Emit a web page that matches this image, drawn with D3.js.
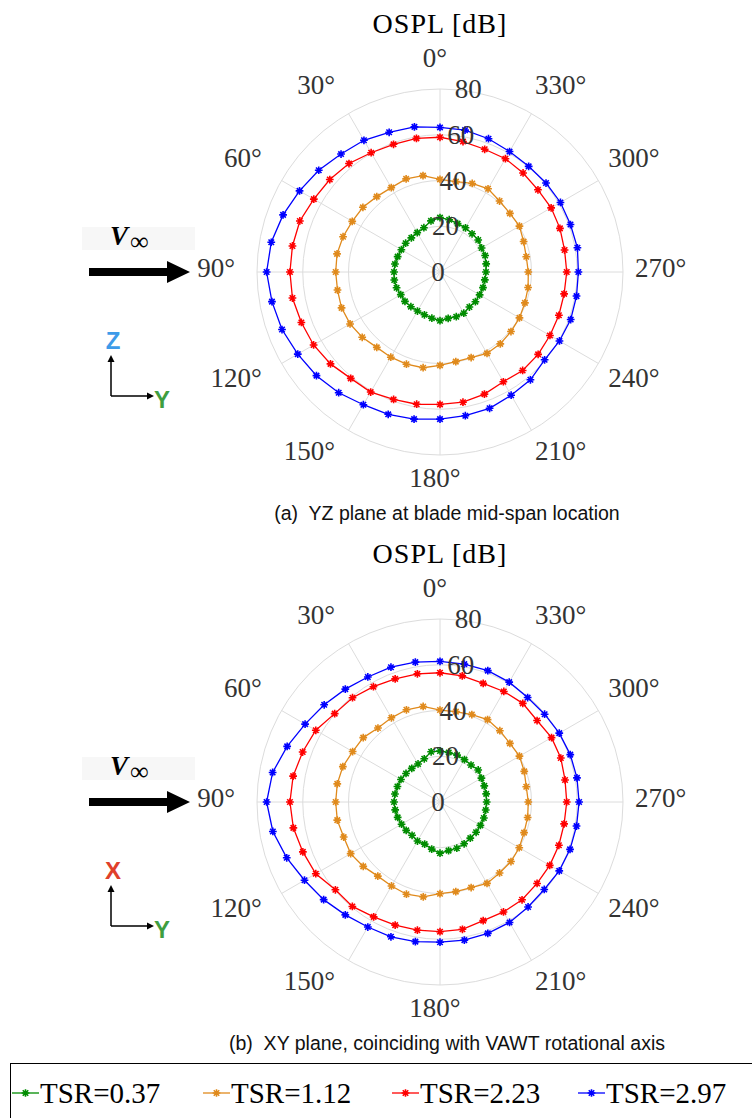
<!DOCTYPE html>
<html>
<head>
<meta charset="utf-8">
<script src="https://cdn.jsdelivr.net/npm/d3@7"></script>
<style>
  body { margin: 0; background: #fff; }
  svg { display: block; }
  .serif { font-family: "Liberation Serif", "Times New Roman", Times, serif; }
  .sans { font-family: "Liberation Sans", Arial, Helvetica, sans-serif; }
</style>
</head>
<body>
<svg></svg>
<script>
const svgWidth = 752;
const svgHeight = 1118;

// angular positions of the samples (deg, counter-clockwise from top)
const angles = [0, 10, 20, 30, 40, 50, 60, 70, 80, 90, 100, 110, 120, 130, 140, 150, 160, 170,
                180, 190, 200, 210, 220, 230, 240, 250, 260, 270, 280, 290, 300, 310, 320, 330, 340, 350];
const angleTicks = [0, 30, 60, 90, 120, 150, 180, 210, 240, 270, 300, 330];
const radialTicks = [0, 20, 40, 60, 80];
const seriesNames = ["TSR=0.37", "TSR=1.12", "TSR=2.23", "TSR=2.97"];
const seriesColors = ["#008c00", "#e08a1c", "#ff0000", "#0000ff"];

// (a) YZ plane, OSPL [dB]
const yzTsr037 = [23.8, 22.7, 20.6, 19.9, 19.5, 19.6, 19.5, 19.7, 20.0, 20.1, 20.3, 20.2, 19.8, 20.0, 19.8, 19.7, 19.9, 20.5,
                  21.3, 20.6, 20.8, 20.8, 20.0, 20.2, 20.0, 20.0, 19.9, 20.1, 20.5, 21.0, 21.0, 21.8, 21.8, 22.3, 22.5, 23.2];
const yzTsr112 = [40.5, 42.8, 43.3, 42.6, 43.0, 44.0, 44.3, 45.1, 45.7, 45.6, 45.5, 45.8, 45.4, 44.4, 43.0, 43.0, 42.9, 42.5,
                  40.8, 39.8, 39.8, 41.1, 41.0, 40.5, 40.1, 39.5, 39.1, 38.6, 38.3, 38.9, 40.1, 39.9, 40.5, 42.0, 41.2, 40.1];
const yzTsr223 = [58.9, 59.3, 59.4, 60.2, 61.9, 62.9, 63.7, 65.2, 65.5, 65.6, 65.5, 64.5, 63.8, 62.5, 60.7, 60.6, 59.3, 58.7,
                  57.9, 57.8, 56.8, 55.4, 56.2, 56.0, 55.5, 55.3, 55.1, 55.4, 55.3, 55.8, 56.1, 55.9, 56.5, 57.2, 57.1, 57.9];
const yzTsr297 = [63.2, 64.4, 65.0, 66.5, 67.3, 69.2, 70.9, 73.0, 74.9, 75.8, 74.6, 73.5, 71.8, 70.5, 68.9, 67.0, 66.2, 65.3,
                  64.3, 63.8, 63.4, 62.2, 61.5, 59.7, 60.3, 60.8, 60.6, 60.5, 61.0, 60.7, 60.8, 60.5, 60.3, 60.8, 62.0, 63.0];

// (b) XY plane, OSPL [dB]
const xyTsr037 = [22.3, 22.3, 20.1, 19.2, 19.2, 19.4, 19.7, 19.8, 20.0, 20.1, 19.9, 19.7, 19.4, 19.3, 19.0, 19.7, 19.6, 20.9,
                  22.4, 21.6, 21.5, 21.1, 20.6, 20.6, 20.4, 20.4, 20.3, 20.4, 20.5, 20.6, 20.9, 21.8, 21.1, 21.4, 21.8, 22.0];
const xyTsr112 = [40.2, 42.4, 42.9, 42.5, 42.2, 43.8, 44.1, 45.2, 45.6, 45.6, 45.6, 44.8, 45.1, 43.8, 42.3, 42.4, 42.9, 42.1,
                  40.1, 39.8, 39.8, 41.1, 40.5, 40.5, 40.0, 39.1, 38.9, 38.6, 38.3, 39.2, 40.1, 39.9, 40.7, 41.6, 40.7, 40.1];
const xyTsr223 = [56.5, 56.9, 57.3, 58.2, 59.5, 60.1, 62.7, 63.9, 65.2, 65.6, 65.1, 63.8, 62.7, 59.7, 59.6, 58.0, 57.3, 56.9,
                  56.7, 56.5, 55.2, 55.5, 55.8, 55.4, 55.4, 55.3, 55.1, 55.4, 55.5, 56.2, 56.3, 55.4, 56.3, 55.8, 55.2, 56.0];
const xyTsr297 = [61.5, 62.1, 62.7, 63.1, 64.4, 66.1, 68.1, 71.1, 74.3, 75.8, 74.2, 71.3, 68.4, 66.4, 64.4, 63.1, 62.7, 62.0,
                  61.3, 61.3, 61.1, 60.8, 59.9, 59.5, 60.2, 60.5, 60.6, 60.8, 60.8, 60.6, 60.2, 59.7, 59.6, 60.5, 61.1, 61.2];

const svg = d3.select("svg")
    .attr("width", svgWidth)
    .attr("height", svgHeight);

const cx = 440;
const outerR = 183;
const r = d3.scaleLinear().domain([0, 80]).range([0, outerR]);
const toRad = d => -d * Math.PI / 180;   // counter-clockwise, 0 at top

// 8-arm asterisk marker
const asterisk = {
    draw(ctx, size) {
        const s = Math.sqrt(size) / 2;
        for (let k = 0; k < 4; k++) {
            const a = k * Math.PI / 4;
            ctx.moveTo(s * Math.cos(a), s * Math.sin(a));
            ctx.lineTo(-s * Math.cos(a), -s * Math.sin(a));
        }
    }
};
const marker = d3.symbol(asterisk, 60);

const line = d3.lineRadial()
    .angle(d => toRad(d.a))
    .radius(d => r(d.v))
    .curve(d3.curveLinearClosed);

function drawPolar(cy, series, caption, axisLetter, axisColor) {
    const g = svg.append("g").attr("transform", "translate(" + cx + "," + cy + ")");

    // title
    svg.append("text")
        .attr("class", "serif")
        .attr("x", cx).attr("y", cy - 239)
        .attr("text-anchor", "middle")
        .attr("font-size", 28)
        .attr("letter-spacing", 1)
        .attr("fill", "#000")
        .text("OSPL [dB]");

    // grid circles
    g.selectAll(".ring").data(radialTicks.slice(1)).join("circle")
        .attr("r", d => r(d))
        .attr("fill", "none").attr("stroke", "#dcdcdc").attr("stroke-width", 1);

    // spokes
    g.selectAll(".spoke").data(angleTicks).join("line")
        .attr("x1", 0).attr("y1", 0)
        .attr("x2", d => outerR * Math.sin(toRad(d)))
        .attr("y2", d => -outerR * Math.cos(toRad(d)))
        .attr("stroke", "#dcdcdc").attr("stroke-width", 1);

    // angle labels
    g.selectAll(".alabel").data(angleTicks).join("text")
        .attr("class", "serif")
        .attr("font-size", 27)
        .attr("fill", "#333")
        .attr("text-anchor", "middle")
        .attr("dominant-baseline", "central")
        .text(d => d + "°")
        .each(function(d) {
            const w = this.getComputedTextLength();
            const s = Math.sin(d * Math.PI / 180), c = Math.cos(d * Math.PI / 180);
            const sx = Math.abs(s) < 1e-6 ? 0 : Math.sign(s);
            const sy = Math.abs(c) < 1e-6 ? 0 : Math.sign(c);
            d3.select(this)
                .attr("x", -s * 200 - sx * w / 2 - 5)
                .attr("y", -c * 200 - sy * 10 - 4);
        });

    // series
    series.forEach((vals, i) => {
        const pts = angles.map((a, j) => ({a: a, v: vals[j]}));
        g.append("path")
            .datum(pts)
            .attr("fill", "none")
            .attr("stroke", seriesColors[i])
            .attr("stroke-width", 1.3)
            .attr("d", line);
        g.append("g").selectAll("path").data(pts).join("path")
            .attr("transform", d => {
                const rr = r(d.v), t = toRad(d.a);
                return "translate(" + (rr * Math.sin(t)) + "," + (-rr * Math.cos(t)) + ")";
            })
            .attr("d", marker)
            .attr("fill", "none")
            .attr("stroke", seriesColors[i])
            .attr("stroke-width", 1.6);
    });

    // radial tick labels
    g.selectAll(".rlabel").data(radialTicks).join("text")
        .attr("class", "serif")
        .attr("x", d => -2 + r(d) * 0.165)
        .attr("y", d => -r(d))
        .attr("text-anchor", "middle")
        .attr("dominant-baseline", "central")
        .attr("font-size", 27)
        .attr("fill", "#333")
        .text(d => d);

    // caption
    svg.append("text")
        .attr("class", "sans")
        .attr("x", 447).attr("y", cy + 241)
        .attr("text-anchor", "middle")
        .attr("dominant-baseline", "central")
        .attr("font-size", 19.5)
        .attr("fill", "#111")
        .style("white-space", "pre")
        .text(caption);

    // free-stream arrow
    const ay = cy;
    svg.append("rect")
        .attr("x", 82).attr("y", ay - 45).attr("width", 113).attr("height", 23)
        .attr("fill", "#f7f7f7");
    const vt = svg.append("text")
        .attr("class", "serif")
        .attr("x", 110).attr("y", ay - 27)
        .attr("font-size", 27);
    vt.append("tspan").attr("font-weight", "bold").attr("font-style", "italic").text("V");
    vt.append("tspan").attr("dx", 2).attr("dy", 5).attr("font-size", 26).text("∞");

    const p = d3.path();
    p.moveTo(89, ay - 4); p.lineTo(167, ay - 4); p.lineTo(167, ay - 11);
    p.lineTo(190, ay); p.lineTo(167, ay + 11); p.lineTo(167, ay + 4); p.lineTo(89, ay + 4);
    p.closePath();
    svg.append("path").attr("d", p.toString()).attr("fill", "#000");

    // coordinate icon
    const ox = 111, oy = cy + 124;
    const ax = d3.path();
    ax.moveTo(ox, oy); ax.lineTo(ox, oy - 38);
    ax.moveTo(ox, oy); ax.lineTo(ox + 39, oy);
    svg.append("path").attr("d", ax.toString()).attr("stroke", "#000").attr("stroke-width", 1.5).attr("fill", "none");
    svg.append("path").attr("d", "M" + (ox - 3.5) + "," + (oy - 34) + "L" + ox + "," + (oy - 41) + "L" + (ox + 3.5) + "," + (oy - 34) + "Z");
    svg.append("path").attr("d", "M" + (ox + 36) + "," + (oy - 3.5) + "L" + (ox + 43) + "," + oy + "L" + (ox + 36) + "," + (oy + 3.5) + "Z");
    svg.append("text")
        .attr("class", "sans")
        .attr("x", ox + 2).attr("y", oy - 56)
        .attr("text-anchor", "middle").attr("dominant-baseline", "central")
        .attr("font-weight", "bold").attr("font-size", 24)
        .attr("fill", axisColor).text(axisLetter);
    svg.append("text")
        .attr("class", "sans")
        .attr("x", ox + 51).attr("y", oy + 3)
        .attr("text-anchor", "middle").attr("dominant-baseline", "central")
        .attr("font-weight", "bold").attr("font-size", 24)
        .attr("fill", "#3f9e3f").text("Y");
}

drawPolar(272, [yzTsr037, yzTsr112, yzTsr223, yzTsr297],
    "(a)  YZ plane at blade mid-span location", "Z", "#3d9be9");
drawPolar(802, [xyTsr037, xyTsr112, xyTsr223, xyTsr297],
    "(b)  XY plane, coinciding with VAWT rotational axis", "X", "#e0402a");

// legend
svg.append("rect")
    .attr("x", 10.5).attr("y", 1063.5).attr("width", 760).attr("height", 70)
    .attr("fill", "none").attr("stroke", "#000").attr("stroke-width", 1);

const legendX = [12, 203, 392, 578];
const lg = svg.append("g").selectAll("g").data(seriesNames).join("g")
    .attr("transform", (d, i) => "translate(" + legendX[i] + ",1093)");
lg.append("line")
    .attr("x1", 0).attr("x2", 27).attr("y1", 0).attr("y2", 0)
    .attr("stroke", (d, i) => seriesColors[i]).attr("stroke-width", 1.3);
lg.append("path")
    .attr("transform", "translate(13.5,0)")
    .attr("d", marker)
    .attr("fill", "none")
    .attr("stroke", (d, i) => seriesColors[i]).attr("stroke-width", 1.6);
lg.append("text")
    .attr("class", "serif")
    .attr("x", 28).attr("y", 0)
    .attr("dominant-baseline", "central")
    .attr("font-size", 29)
    .attr("fill", "#000")
    .text(d => d);
</script>
</body>
</html>
